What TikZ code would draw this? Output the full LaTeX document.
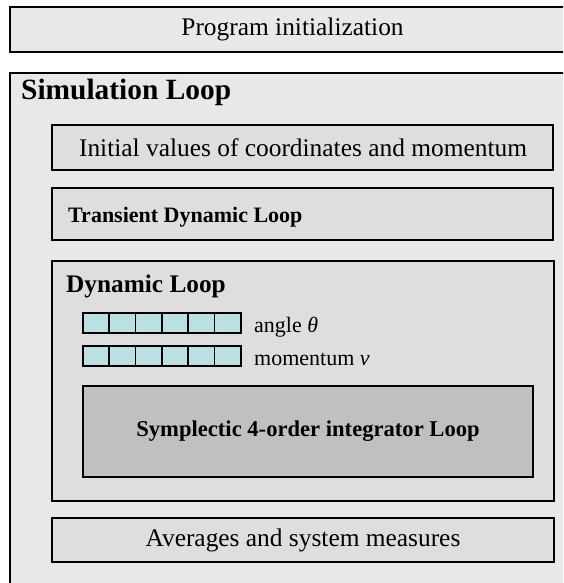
\documentclass[tikz,border=0pt]{standalone}
\usepackage{fontspec}
\setmainfont{Liberation Serif}
\definecolor{outergray}{HTML}{E8E8E8}
\definecolor{innergray}{HTML}{DEDEDE}
\definecolor{darkgray2}{HTML}{C0C0C0}
\definecolor{cellcyan}{HTML}{BCE0E2}
\begin{document}
\begin{tikzpicture}[x=1pt,y=-1pt,
  frame/.style={draw=black,line width=1.6pt,inner sep=0pt,outer sep=0pt,anchor=north west},
  outerbox/.style={frame,fill=outergray},
  innerbox/.style={frame,fill=innergray},
  intbox/.style={frame,fill=darkgray2},
  cell/.style={draw=black,line width=1.7pt,fill=cellcyan,inner sep=0pt,outer sep=0pt,anchor=north west,minimum width=26.3pt,minimum height=20pt},
  plain/.style={font=\fontsize{25.4}{30}\selectfont,inner sep=0pt},
  boldtitle/.style={font=\fontsize{25.3}{30}\selectfont\bfseries,inner sep=0pt,anchor=base west},
  small/.style={font=\fontsize{22}{26}\selectfont,inner sep=0pt,anchor=base west}]
\useasboundingbox (0,0) rectangle (563,583);
\clip (0,0) rectangle (563,583);
\fill[white] (0,0) rectangle (563,583);
% outer boxes
\node[outerbox,minimum width=600pt,minimum height=45pt] (prog) at (10,7) {};
\node[plain] (progtext) at (292.5,29.5) {Program initialization};
\node[outerbox,minimum width=600pt,minimum height=560pt] (sim) at (10,73) {};
\node[font=\fontsize{29.4}{32}\selectfont\bfseries,inner sep=0pt,anchor=base west] (simtext) at (21,100) {Simulation Loop};
% inner boxes
\node[innerbox,minimum width=501pt,minimum height=45pt] (init) at (52,125) {};
\node[plain] (inittext) at (303,147.5) {Initial values of coordinates and momentum};
\node[innerbox,minimum width=501pt,minimum height=52pt] (trans) at (52,188) {};
\node[boldtitle,font=\fontsize{22}{28}\selectfont\bfseries] (transtext) at (68,222) {Transient Dynamic Loop};
\node[innerbox,minimum width=502pt,minimum height=240pt] (dyn) at (52,261) {};
\node[boldtitle] (dyntext) at (66,292) {Dynamic Loop};
% arrays
\foreach \i in {0,...,5}{
  \node[cell] (a\i) at (83+26.3*\i,313) {};
  \node[cell] (m\i) at (83+26.3*\i,346) {};
}
\node[small] (angletext) at (254,332) {angle {\itshape θ}};
\node[small] (momtext) at (254,365) {momentum {\itshape v}};
\node[intbox,minimum width=450pt,minimum height=91pt] (symp) at (83,386) {};
\node[font=\fontsize{22.6}{26}\selectfont\bfseries,inner sep=0pt] (symptext) at (308,431.5) {Symplectic 4-order integrator Loop};
\node[innerbox,minimum width=502pt,minimum height=44pt] (avg) at (52,518) {};
\node[plain] (avgtext) at (303,540.5) {Averages and system measures};
\end{tikzpicture}
\end{document}
